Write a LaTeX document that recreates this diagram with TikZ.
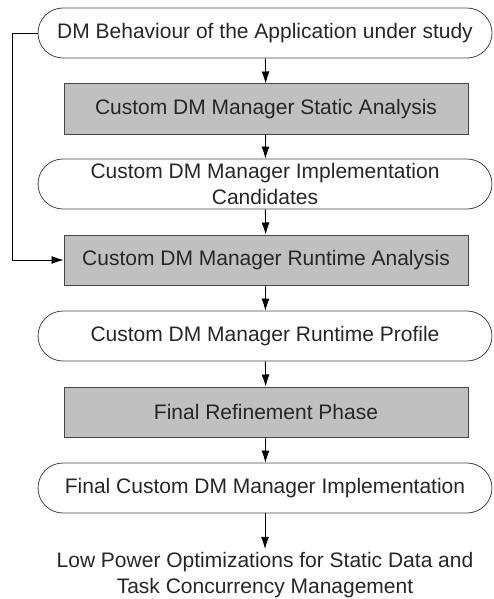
\documentclass[tikz,border=0pt]{standalone}
\usepackage{fontspec}
\setmainfont{Liberation Sans}
\usetikzlibrary{arrows.meta}
\definecolor{procgray}{RGB}{192,192,192}
\definecolor{linegray}{RGB}{70,70,70}

\begin{document}
\begin{tikzpicture}[x=1pt,y=1pt,
  every node/.style={font=\fontsize{21}{25.5}\selectfont, text=black!85},
  data/.style={draw=linegray, line width=0.8pt, rounded corners=25pt,
    minimum width=454pt, minimum height=50pt, inner sep=0pt, align=center},
  proc/.style={draw=linegray, line width=1pt, fill=procgray,
    minimum width=404pt, minimum height=50pt, inner sep=0pt},
  flow/.style={-{Latex[length=12pt,width=8pt]}, line width=0.8pt}]
\useasboundingbox (0,0) rectangle (493,-599);
\node[data] (behav) at (265,-33) {DM Behaviour of the Application under study};
\node[proc] (static) at (266,-109) {Custom DM Manager Static Analysis};
\node[data] (cand) at (265,-184) {Custom DM Manager Implementation\\Candidates};
\node[proc] (runtime) at (266,-260) {Custom DM Manager Runtime Analysis};
\node[data] (profile) at (265,-336) {Custom DM Manager Runtime Profile};
\node[proc] (refine) at (266,-412) {Final Refinement Phase};
\node[data] (final) at (265,-488) {Final Custom DM Manager Implementation};
\node[align=center] (lowpow) at (265,-575) {Low Power Optimizations for Static Data and\\Task Concurrency Management};
% main flow
\draw[flow] (behav) -- (static);
\draw[flow] (static) -- (cand);
\draw[flow] (cand) -- (runtime);
\draw[flow] (runtime) -- (profile);
\draw[flow] (profile) -- (refine);
\draw[flow] (refine) -- (final);
\draw[flow] (final) -- (lowpow);
% feedback
\draw[flow] (behav.west) -- ++(-25,0) |- (runtime.west);
\end{tikzpicture}
\end{document}
